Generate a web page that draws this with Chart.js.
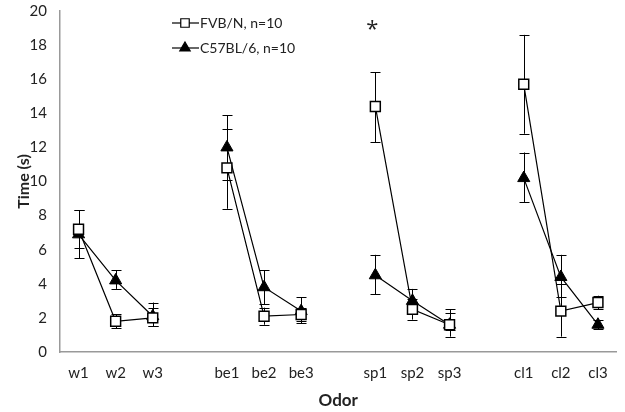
<!DOCTYPE html>
<html>
<head>
<meta charset="utf-8">
<script src="https://cdn.jsdelivr.net/npm/chart.js@4/dist/chart.umd.min.js"></script>
<style>
  html, body { margin: 0; padding: 0; background: #fff; }
  #wrap { width: 625px; height: 412px; }
</style>
</head>
<body>
<div id="wrap"><canvas id="odor"></canvas></div>
<script>
// categories (empty slots = gaps between odor groups)
const labels = ['w1', 'w2', 'w3', '', 'be1', 'be2', 'be3', '', 'sp1', 'sp2', 'sp3', '', 'cl1', 'cl2', 'cl3'];

// FVB/N
const fvbMean = [7.2, 1.8, 2.0, null, 10.8, 2.1, 2.2, null, 14.4, 2.5, 1.6, null, 15.7, 2.4, 2.9];
const fvbHigh = [8.3, 2.2, 2.6, null, 13.1, 2.6, 2.6, null, 16.4, 3.1, 2.3, null, 18.6, 4.0, 3.3];
const fvbLow  = [6.1, 1.4, 1.5, null, 8.4, 1.6, 1.7, null, 12.3, 1.9, 1.3, null, 12.8, 0.9, 2.5];

// C57BL/6
const c57Mean = [6.9, 4.2, 2.1, null, 12.0, 3.8, 2.4, null, 4.5, 3.0, 1.6, null, 10.2, 4.4, 1.6];
const c57High = [8.3, 4.8, 2.9, null, 13.9, 4.8, 3.2, null, 5.7, 3.7, 2.5, null, 11.7, 5.7, 1.9];
const c57Low  = [5.5, 3.7, 1.5, null, 10.1, 2.8, 1.8, null, 3.4, 2.3, 0.9, null, 8.8, 3.2, 1.35];

const yTicks = [0, 2, 4, 6, 8, 10, 12, 14, 16, 18, 20];

// significance mark
const starAt = { label: 'sp1', value: 19.1 };

const errors = [
  { high: fvbHigh, low: fvbLow },
  { high: c57High, low: c57Low }
];

const FONT = 'Lato';

const errorBars = {
  id: 'errorBars',
  beforeDatasetsDraw(chart) {
    const ctx = chart.ctx;
    const y = chart.scales.y;
    ctx.save();
    ctx.strokeStyle = '#000';
    ctx.lineWidth = 1;
    errors.forEach((e, di) => {
      const meta = chart.getDatasetMeta(di);
      meta.data.forEach((pt, i) => {
        if (e.high[i] == null) return;
        const x = Math.round(pt.x) + 0.5;
        const yh = y.getPixelForValue(e.high[i]);
        const yl = y.getPixelForValue(e.low[i]);
        ctx.beginPath();
        ctx.moveTo(x, yh); ctx.lineTo(x, yl);
        ctx.moveTo(x - 5, Math.round(yh) + 0.5); ctx.lineTo(x + 5, Math.round(yh) + 0.5);
        ctx.moveTo(x - 5, Math.round(yl) + 0.5); ctx.lineTo(x + 5, Math.round(yl) + 0.5);
        ctx.stroke();
      });
    });
    ctx.restore();
  },
  afterDraw(chart) {
    const ctx = chart.ctx;
    const xs = chart.scales.x, ys = chart.scales.y;
    ctx.save();
    // asterisk
    ctx.fillStyle = '#222';
    ctx.font = '22px "Open Sans"';
    ctx.textAlign = 'center';
    ctx.textBaseline = 'middle';
    ctx.fillText('*', xs.getPixelForValue(labels.indexOf(starAt.label)) - 3, ys.getPixelForValue(starAt.value) + 3);

    // legend
    const items = [
      { text: 'FVB/N, n=10', style: 'rect', fill: '#fff', y: 23 },
      { text: 'C57BL/6, n=10', style: 'triangle', fill: '#000', y: 48 }
    ];
    ctx.font = '14px ' + FONT;
    ctx.textAlign = 'left';
    items.forEach(it => {
      ctx.strokeStyle = '#000';
      ctx.lineWidth = 1.2;
      ctx.beginPath();
      ctx.moveTo(172, it.y); ctx.lineTo(199, it.y);
      ctx.stroke();
      ctx.fillStyle = it.fill;
      Chart.helpers.drawPoint(ctx, { pointStyle: it.style, radius: 6, borderWidth: 1.5, rotation: 0 }, 185, it.y);
      ctx.fillStyle = '#222';
      ctx.fillText(it.text, 200, it.y);
    });
    ctx.restore();
  }
};

new Chart(document.getElementById('odor'), {
  type: 'line',
  data: {
    labels: labels,
    datasets: [
      {
        label: 'FVB/N, n=10',
        data: fvbMean,
        borderColor: '#000',
        borderWidth: 1.2,
        pointStyle: 'rect',
        pointRadius: 7,
        pointBackgroundColor: '#fff',
        pointBorderColor: '#000',
        pointBorderWidth: 1.5,
        spanGaps: false,
        tension: 0
      },
      {
        label: 'C57BL/6, n=10',
        data: c57Mean,
        borderColor: '#000',
        borderWidth: 1.2,
        pointStyle: 'triangle',
        pointRadius: 7,
        pointBackgroundColor: '#000',
        pointBorderColor: '#000',
        pointBorderWidth: 1,
        spanGaps: false,
        tension: 0
      }
    ]
  },
  options: {
    responsive: true,
    maintainAspectRatio: false,
    animation: false,
    layout: { padding: { left: 0, right: 5, top: 11, bottom: 0 } },
    plugins: {
      legend: { display: false },
      tooltip: { enabled: false }
    },
    scales: {
      x: {
        offset: true,
        grid: { display: false, drawTicks: false },
        border: { color: '#999', width: 1.5 },
        ticks: { color: '#222', font: { family: FONT, size: 15 }, padding: 12, maxRotation: 0, autoSkip: false },
        title: { display: true, text: 'Odor', color: '#222', font: { family: FONT, size: 17, weight: 'bold' }, padding: { top: 12, bottom: 1 } },
        afterFit(s) { s.height = 60; s.paddingLeft = 0; s.paddingRight = 0; }
      },
      y: {
        min: 0,
        max: 20,
        afterBuildTicks(s) { s.ticks = yTicks.map(v => ({ value: v })); },
        grid: { display: false, drawTicks: false },
        border: { color: '#999', width: 1.5 },
        ticks: { color: '#222', font: { family: FONT, size: 15 }, padding: 13 },
        title: { display: true, text: 'Time (s)', color: '#222', font: { family: FONT, size: 16, weight: 'bold' }, padding: { top: 14, bottom: 0 } },
        afterFit(s) { s.width = 60; s.paddingTop = 0; s.paddingBottom = 0; }
      }
    }
  },
  plugins: [errorBars]
});
</script>
</body>
</html>
